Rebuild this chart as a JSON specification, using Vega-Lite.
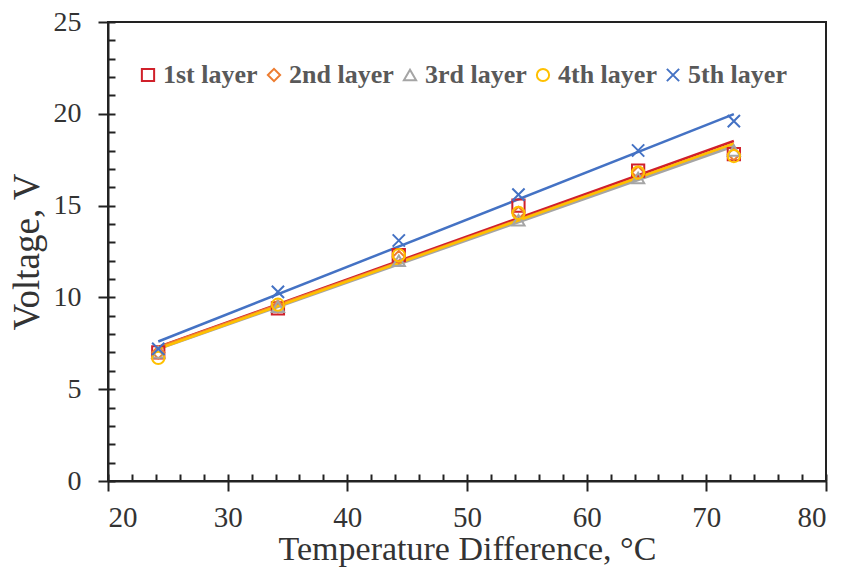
{
  "$schema": "https://vega.github.io/schema/vega-lite/v6.json",
  "width": 718,
  "height": 459,
  "autosize": {"type": "none"},
  "padding": {"left": 108, "top": 22, "right": 18, "bottom": 87},
  "background": "white",
  "config": {
    "view": {"stroke": "#222", "strokeWidth": 2},
    "font": "Liberation Serif",
    "axis": {"grid": false, "domainColor": "#222", "tickColor": "#222", "domainWidth": 2, "tickWidth": 2, "labelColor": "#333", "titleColor": "#333", "labelFont": "Liberation Serif", "titleFont": "Liberation Serif", "titleFontWeight": "normal"},
    "legend": {"padding": 0}
  },
  "data": {"values": [
    {"T": 24.2, "V": 7.0, "s": "1st layer"},
    {"T": 34.2, "V": 9.4, "s": "1st layer"},
    {"T": 44.3, "V": 12.3, "s": "1st layer"},
    {"T": 54.3, "V": 15.0, "s": "1st layer"},
    {"T": 64.3, "V": 16.9, "s": "1st layer"},
    {"T": 72.3, "V": 17.8, "s": "1st layer"},
    {"T": 24.2, "V": 7.0, "s": "2nd layer"},
    {"T": 34.2, "V": 9.5, "s": "2nd layer"},
    {"T": 44.3, "V": 12.2, "s": "2nd layer"},
    {"T": 54.3, "V": 14.6, "s": "2nd layer"},
    {"T": 64.3, "V": 16.8, "s": "2nd layer"},
    {"T": 72.3, "V": 17.8, "s": "2nd layer"},
    {"T": 24.2, "V": 7.0, "s": "3rd layer"},
    {"T": 34.2, "V": 9.5, "s": "3rd layer"},
    {"T": 44.3, "V": 12.0, "s": "3rd layer"},
    {"T": 54.3, "V": 14.2, "s": "3rd layer"},
    {"T": 64.3, "V": 16.5, "s": "3rd layer"},
    {"T": 72.3, "V": 18.0, "s": "3rd layer"},
    {"T": 24.2, "V": 6.7, "s": "4th layer"},
    {"T": 34.2, "V": 9.6, "s": "4th layer"},
    {"T": 44.3, "V": 12.3, "s": "4th layer"},
    {"T": 54.3, "V": 14.6, "s": "4th layer"},
    {"T": 64.3, "V": 16.8, "s": "4th layer"},
    {"T": 72.3, "V": 17.7, "s": "4th layer"},
    {"T": 24.2, "V": 7.2, "s": "5th layer"},
    {"T": 34.2, "V": 10.3, "s": "5th layer"},
    {"T": 44.3, "V": 13.1, "s": "5th layer"},
    {"T": 54.3, "V": 15.6, "s": "5th layer"},
    {"T": 64.3, "V": 18.0, "s": "5th layer"},
    {"T": 72.3, "V": 19.6, "s": "5th layer"}
  ]},
  "resolve": {"axis": {"x": "independent", "y": "independent"}, "legend": {"color": "independent", "shape": "independent"}},
  "layer": [
    {
      "transform": [{"regression": "V", "on": "T", "groupby": ["s"]}],
      "mark": {"type": "line", "strokeWidth": 2.5},
      "encoding": {
        "x": {"field": "T", "type": "quantitative", "scale": {"domain": [20, 80], "nice": false},
          "axis": {"orient": "bottom", "values": [20,22,24,26,28,30,32,34,36,38,40,42,44,46,48,50,52,54,56,58,60,62,64,66,68,70,72,74,76,78,80], "tickSize": -7, "labels": false, "title": null, "domain": false}},
        "y": {"field": "V", "type": "quantitative", "scale": {"domain": [0, 25], "nice": false},
          "axis": {"orient": "left", "values": [0,1,2,3,4,5,6,7,8,9,10,11,12,13,14,15,16,17,18,19,20,21,22,23,24,25], "tickSize": -7, "labels": false, "title": null, "domain": false}},
        "color": {"field": "s", "type": "nominal", "legend": null,
          "scale": {"domain": ["1st layer", "2nd layer", "3rd layer", "4th layer", "5th layer"], "range": ["#D0202A", "#ED7D31", "#A5A5A5", "#FFC000", "#4472C4"]}}
      }
    },
    {
      "mark": {"type": "point", "filled": false, "strokeWidth": 2, "size": 150, "opacity": 1},
      "encoding": {
        "x": {"field": "T", "type": "quantitative", "scale": {"domain": [20, 80], "nice": false},
          "axis": {"orient": "bottom", "values": [20, 30, 40, 50, 60, 70, 80], "tickSize": 10, "labelFontSize": 29, "labelPadding": 12, "title": "Temperature Difference, °C", "titleFontSize": 34, "titlePadding": 0}},
        "y": {"field": "V", "type": "quantitative", "scale": {"domain": [0, 25], "nice": false},
          "axis": {"orient": "left", "values": [0, 5, 10, 15, 20, 25], "tickSize": 10, "labelFontSize": 28, "labelPadding": 17, "title": "Voltage, V", "titleFontSize": 37, "titlePadding": 7}},
        "color": {"field": "s", "type": "nominal",
          "scale": {"domain": ["1st layer", "2nd layer", "3rd layer", "4th layer", "5th layer"], "range": ["#D0202A", "#ED7D31", "#A5A5A5", "#FFC000", "#4472C4"]},
          "legend": {"orient": "none", "legendX": 27, "legendY": 40, "direction": "horizontal", "columns": 5, "title": null, "labelFont": "Liberation Serif", "labelFontWeight": "bold", "labelFontSize": 26, "labelColor": "#595959", "symbolSize": 150, "symbolStrokeWidth": 2, "columnPadding": 3, "labelOffset": 2}},
        "shape": {"field": "s", "type": "nominal",
          "scale": {"domain": ["1st layer", "2nd layer", "3rd layer", "4th layer", "5th layer"], "range": ["square", "diamond", "triangle-up", "circle", "M-1,-1L1,1M-1,1L1,-1"]},
          "legend": {"orient": "none", "legendX": 27, "legendY": 40, "direction": "horizontal", "columns": 5, "title": null, "labelFont": "Liberation Serif", "labelFontWeight": "bold", "labelFontSize": 26, "labelColor": "#595959", "symbolSize": 150, "symbolStrokeWidth": 2, "columnPadding": 3, "labelOffset": 2}}
      }
    }
  ]
}
